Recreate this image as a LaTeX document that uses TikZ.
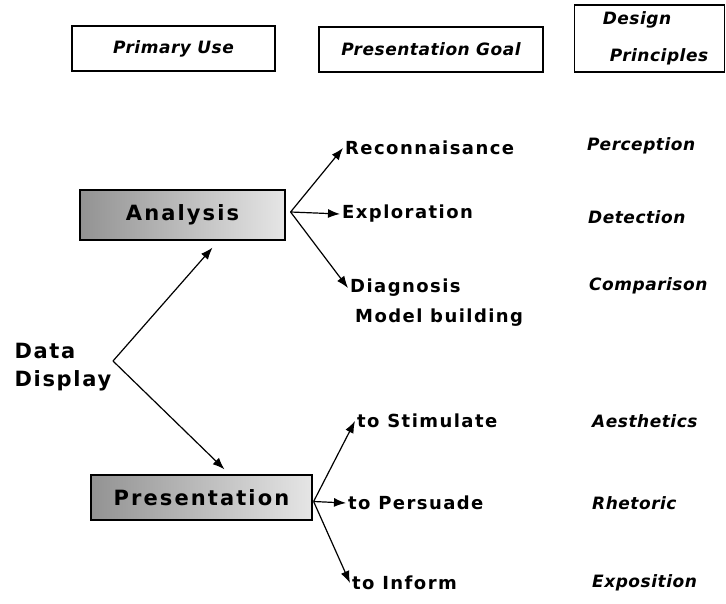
\documentclass[tikz,border=0pt]{standalone}
\usepackage{fontspec}
\setmainfont{Liberation Sans}
\newfontfamily\hdrfont[LetterSpace=3]{DejaVu Sans}
\newfontfamily\boxfont[LetterSpace=10]{DejaVu Sans}
\newfontfamily\goalfont[LetterSpace=8]{DejaVu Sans}
\usetikzlibrary{arrows.meta}

\tikzset{
    hdr/.style={draw, line width=1.2pt, inner sep=0pt, font=\hdrfont\bfseries\itshape\fontsize{17}{22}\selectfont},
    usebox/.style={draw, line width=1.2pt, inner sep=0pt, left color=gray!85, right color=gray!20, font=\boxfont\bfseries\fontsize{21}{25}\selectfont},
    goal/.style={anchor=west, inner sep=2pt, font=\goalfont\bfseries\fontsize{18}{30}\selectfont},
    prin/.style={anchor=west, inner sep=2pt, font=\hdrfont\bfseries\itshape\fontsize{17}{22}\selectfont},
    arr/.style={-{Latex[length=12pt,width=9pt]}, line width=1.2pt}
}

\begin{document}
\begin{tikzpicture}[x=1pt, y=-1pt]
    \useasboundingbox (0,0) rectangle (726,604);

    \node[hdr, minimum width=203pt, minimum height=45pt] (puse) at (173.5,48.5) {Primary Use};
    \node[hdr, minimum width=224pt, minimum height=45pt] (pgoal) at (431,49.5) {Presentation Goal};
    \node[hdr, minimum width=150pt, minimum height=67pt, align=center] (dprin) at (649.5,38.5) {Design\hspace*{25pt}\\[15pt]\hspace*{19pt}Principles};

    \node[usebox, minimum width=205pt, minimum height=50pt] (ana) at (182.5,215) {Analysis};
    \node[usebox, minimum width=221pt, minimum height=45pt] (pres) at (201.5,497.5) {Presentation};

    \node[anchor=west, align=left, font=\goalfont\bfseries\fontsize{21}{28}\selectfont] (dd) at (11,367) {Data\\Display};

    \node[goal] (rec) at (343,148) {Reconnaisance};
    \node[goal] (exp) at (340,214) {Exploration};
    \node[goal, align=left] (dia) at (348,303) {Diagnosis\\\hspace*{5pt}Model building};
    \node[goal] (sti) at (355,421) {to Stimulate};
    \node[goal] (per) at (346,503) {to Persuade};
    \node[goal] (inf) at (350,583) {to Inform};

    \node[prin] (perc) at (585,146) {Perception};
    \node[prin] (dete) at (586,217) {Detection};
    \node[prin] (comp) at (587,286) {Comparison};
    \node[prin] (aest) at (590,421) {Aesthetics};
    \node[prin] (rhet) at (590,503) {Rhetoric};
    \node[prin] (expo) at (590,583) {Exposition};

    \coordinate (fork) at (113,361);
    \coordinate (abr) at ([xshift=5pt,yshift=3pt]ana.east);
    \coordinate (pbr) at ([xshift=1pt,yshift=-4pt]pres.east);

    \draw[arr] (fork) -- ([xshift=30pt,yshift=-7pt]ana.south);
    \draw[arr] (fork) -- ([xshift=23pt,yshift=5pt]pres.north);

    \draw[arr] (abr) -- (rec.west);
    \draw[arr] (abr) -- (exp.west);
    \draw[arr] (abr) -- ([yshift=15pt]dia.west);

    \draw[arr] (pbr) -- (sti.west);
    \draw[arr] (pbr) -- (per.west);
    \draw[arr] (pbr) -- (inf.west);
\end{tikzpicture}
\end{document}
